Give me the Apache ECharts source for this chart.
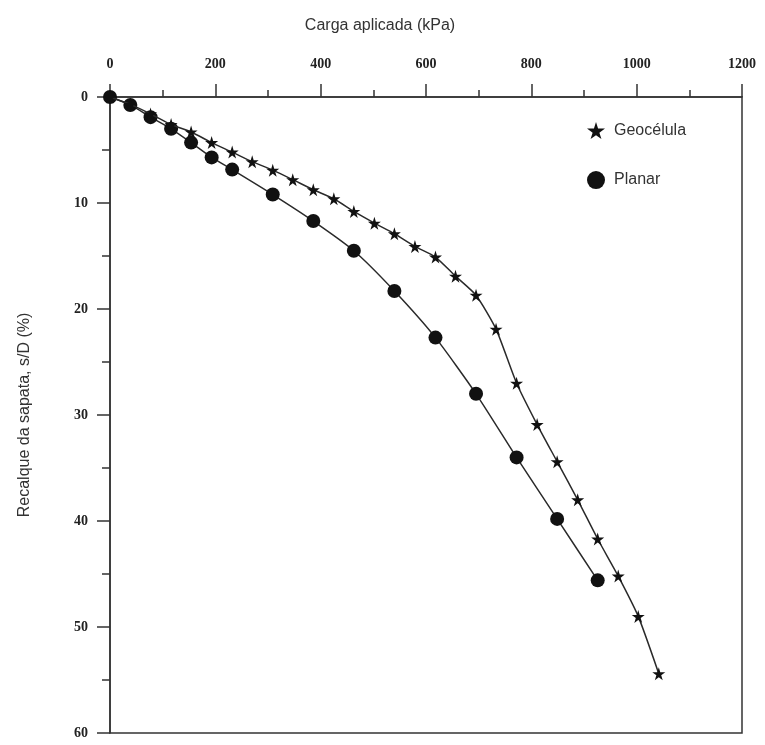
<!DOCTYPE html>
<html>
<head>
<meta charset="utf-8">
<script src="https://cdn.jsdelivr.net/npm/echarts@6/dist/echarts.min.js"></script>
<style>html,body{margin:0;padding:0;background:#fff}#c{width:765px;height:745px}</style>
</head>
<body>
<div id="c"></div>
<script>
const geoLoad = [0, 38.6, 77, 116, 154, 193, 232, 270, 309, 347, 386, 425, 463, 502, 540, 579, 618, 656, 695, 733, 772, 811, 849, 888, 926, 965, 1003, 1042];
const geoSettle = [0, 0.7, 1.6, 2.6, 3.3, 4.3, 5.2, 6.1, 6.9, 7.8, 8.75, 9.6, 10.8, 11.9, 12.9, 14.1, 15.1, 16.9, 18.7, 21.9, 27.0, 30.9, 34.4, 38.0, 41.7, 45.2, 49.0, 54.4];
const planLoad = [0, 38.6, 77, 116, 154, 193, 232, 309, 386, 463, 540, 618, 695, 772, 849, 926];
const planSettle = [0, 0.75, 1.9, 3.0, 4.3, 5.7, 6.85, 9.2, 11.7, 14.5, 18.3, 22.7, 28.0, 34.0, 39.8, 45.6];
const xTicks = [0, 200, 400, 600, 800, 1000, 1200];
const yTicks = [0, 10, 20, 30, 40, 50, 60];
const seriesNames = ['Geocélula', 'Planar'];
const xTitle = 'Carga aplicada (kPa)';
const yTitle = 'Recalque da sapata, s/D (%)';

const STAR = 'path://M50,0 L61,35 L98,35 L68,57 L79,91 L50,70 L21,91 L32,57 L2,35 L39,35 Z';
const pair = (a, b) => a.map((v, i) => [v, b[i]]);

const chart = echarts.init(document.getElementById('c'));
chart.setOption({
  animation: false,
  backgroundColor: '#fff',
  graphic: [{
    type: 'text', x: 380, y: 26,
    style: { text: xTitle, textAlign: 'center', textVerticalAlign: 'middle',
      font: '16px "Liberation Sans", Arial, sans-serif', fill: '#333' }
  }],
  grid: { left: 110, top: 97, right: 23, bottom: 12, show: true, borderColor: '#333', borderWidth: 1.5 },
  legend: {
    orient: 'vertical', left: 582, top: 117, itemGap: 32, itemWidth: 18, itemHeight: 18,
    textStyle: { fontFamily: '"Liberation Sans", Arial, sans-serif', fontSize: 16, color: '#333', padding: [0, 0, 0, 4] },
    data: [{ name: seriesNames[0], icon: STAR, itemStyle: { borderWidth: 0 } }, { name: seriesNames[1], icon: 'circle' }]
  },
  xAxis: {
    type: 'value', position: 'top', min: xTicks[0], max: xTicks[xTicks.length - 1], interval: 200,
    axisLine: { show: true, onZero: false, lineStyle: { color: '#333', width: 1.5 } },
    axisTick: { show: true, length: 13, lineStyle: { color: '#333', width: 1.5 } },
    minorTick: { show: true, splitNumber: 2, length: 7, lineStyle: { color: '#333', width: 1.5 } },
    splitLine: { show: false },
    axisLabel: { margin: 26, formatter: v => String(v),
      fontFamily: '"Liberation Serif", "Times New Roman", serif', fontSize: 14, color: '#222', fontWeight: 'bold' }
  },
  yAxis: {
    type: 'value', inverse: true, min: yTicks[0], max: yTicks[yTicks.length - 1], interval: 10,
    name: yTitle, nameLocation: 'middle', nameGap: 77,
    nameTextStyle: { fontFamily: '"Liberation Sans", Arial, sans-serif', fontSize: 16, color: '#333' },
    axisLine: { show: true, onZero: false, lineStyle: { color: '#333', width: 1.5 } },
    axisTick: { show: true, length: 13, lineStyle: { color: '#333', width: 1.5 } },
    minorTick: { show: true, splitNumber: 2, length: 8, lineStyle: { color: '#333', width: 1.5 } },
    splitLine: { show: false },
    axisLabel: { margin: 22, formatter: v => String(v),
      fontFamily: '"Liberation Serif", "Times New Roman", serif', fontSize: 14, color: '#222', fontWeight: 'bold' }
  },
  series: [
    { name: seriesNames[0], type: 'line', data: pair(geoLoad, geoSettle), smooth: 0.2,
      symbol: STAR, symbolSize: 13, lineStyle: { color: '#2a2a2a', width: 1.5 },
      itemStyle: { color: '#111' }, z: 3 },
    { name: seriesNames[1], type: 'line', data: pair(planLoad, planSettle), smooth: 0.2,
      symbol: 'circle', symbolSize: 14, lineStyle: { color: '#2a2a2a', width: 1.5 },
      itemStyle: { color: '#111' }, z: 2 }
  ]
});
</script>
</body>
</html>
